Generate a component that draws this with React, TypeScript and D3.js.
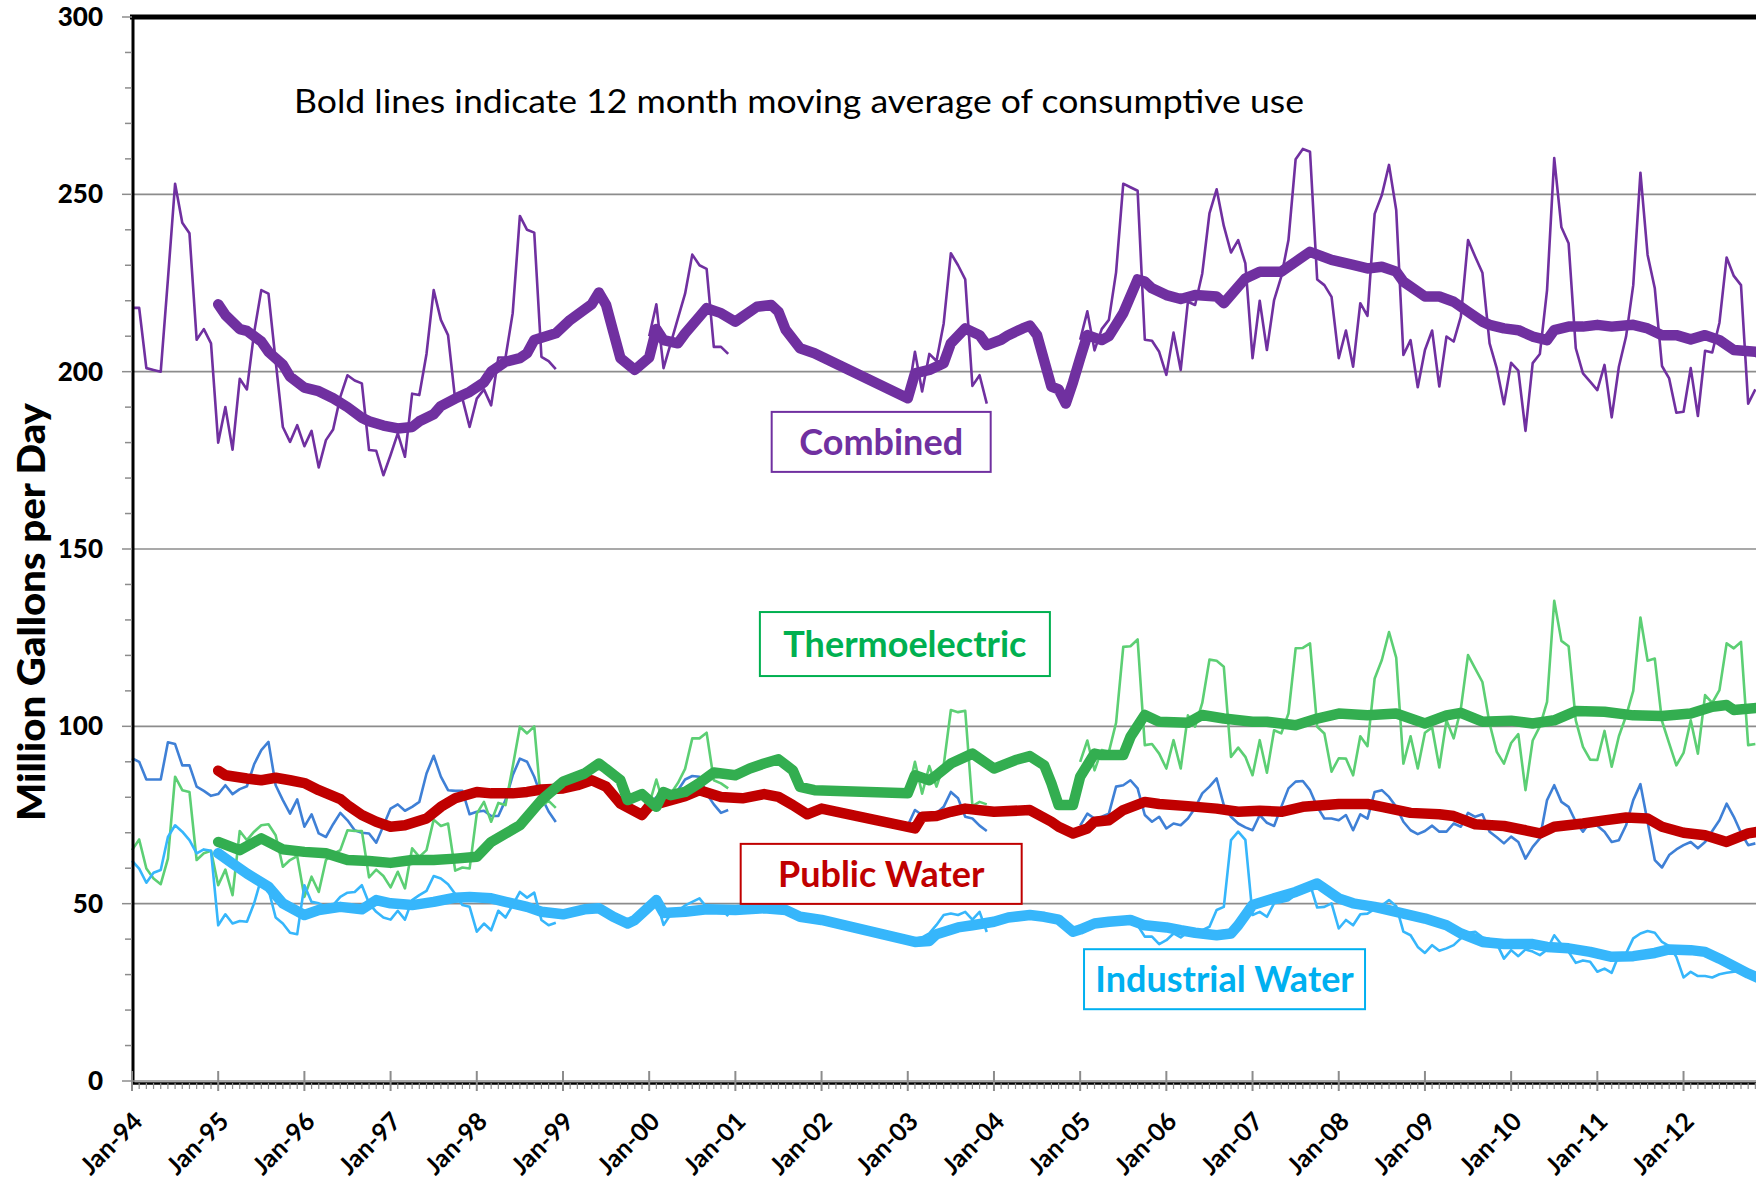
import React, { useRef, useEffect } from "react";
import * as d3 from "d3";

// month index 0 = Jan-94
const yearLabels = [
  "Jan-94", "Jan-95", "Jan-96", "Jan-97", "Jan-98", "Jan-99", "Jan-00",
  "Jan-01", "Jan-02", "Jan-03", "Jan-04", "Jan-05", "Jan-06", "Jan-07",
  "Jan-08", "Jan-09", "Jan-10", "Jan-11", "Jan-12",
];

// monthly data comes in blocks: 1994-98, 2000, 2003, 2005-12
const segmentStart = [0, 72, 108, 132];

const combinedMonthly = [
  [218, 218, 201, 200.5, 200, 226, 253, 242, 239, 209, 212, 208,
   180, 190, 178, 198, 195, 211, 223, 222, 203, 184.4, 180.2, 184.9,
   179, 183.3, 173, 180.7, 183.7, 192.9, 199, 197.5, 196.7, 177.9, 177.7, 170.8,
   176.5, 182.6, 176, 193.8, 193.4, 205, 223, 214.6, 210.3, 192, 192.4, 184.4,
   192.4, 195, 190.5, 204, 204, 216.5, 243.9, 240, 239.2, 204.2, 203, 200.7],
  [210, 219, 201, 208, 215, 222, 233, 230, 229, 207, 207, 205],
  [193, 205.6, 194.4, 205, 203, 213.6, 233.4, 230, 226, 196, 199, 191],
  [209, 217, 206, 212, 214.6, 228, 253, 252, 251, 209, 208.7, 205.6,
   199.1, 211, 200.5, 219.7, 218.8, 227.7, 244.6, 251.4, 241.1, 233.6, 237.1, 230.5,
   203.8, 220, 206.1, 220.2, 226.8, 237.1, 259.9, 262.8, 262, 226, 224.4, 221.1,
   203.8, 211.6, 201.4, 219.3, 215.7, 244.5, 249.8, 258.3, 245.6, 204.7, 208.9, 195.6,
   206.1, 211.6, 195.8, 209.9, 208.5, 215.5, 237.1, 232.4, 227.9, 208, 200.9, 190.8,
   202.5, 200.3, 183.3, 202.4, 205, 223, 260.2, 240.7, 236.2, 206.6, 199.5, 197.2,
   194.8, 201.9, 187.1, 201.4, 209.9, 224.4, 256.1, 232.9, 223.5, 201.6, 198.1, 188.4,
   188.7, 201, 187.5, 205.9, 205.4, 213.8, 232.2, 227, 224.4, 191, 195],
];

const thermoMonthly = [
  [65.1, 68.1, 59.9, 57.1, 55.5, 62.7, 85.8, 82, 81.5, 62.3, 64.2, 64.9,
   55.2, 59.6, 52.4, 70.5, 67.9, 70.3, 72.1, 72.4, 69.3, 60.4, 62.3, 63.4,
   51.9, 57.6, 53.3, 62.3, 64, 65.1, 70.7, 70.5, 70.5, 57.4, 59.6, 57.8,
   54.6, 59, 54.3, 65.6, 63.2, 65.1, 73.7, 71.9, 72.6, 59.3, 60.2, 59.9,
   75.4, 78.7, 73.1, 78.4, 77.8, 88.6, 99.9, 98, 100, 77.5, 79, 77],
  [78, 85, 78, 81, 84, 88, 96.6, 96.6, 98.2, 84.8, 83.9, 82.5],
  [81, 90, 81, 88.8, 83, 89, 104.6, 104, 104.4, 77.5, 78.7, 78],
  [90, 96, 87.6, 93.3, 92.8, 101, 122.4, 122.6, 124.5, 94.7, 95, 92.3,
   88.1, 96.1, 88.1, 103.1, 99.9, 106.6, 118.8, 118.5, 116.8, 91.4, 94, 91.4,
   86.2, 96.1, 86.9, 98.9, 98, 103.6, 122, 122.1, 123.4, 99.9, 98, 87.2,
   91, 90.9, 86.2, 97.2, 94.4, 113.5, 118.7, 126.6, 119.4, 89.5, 97.2, 88.1,
   98.2, 99.7, 88.4, 101.7, 96.6, 105, 120.1, 116.3, 112.5, 100.8, 92.8, 89.5,
   95.3, 97.8, 82, 96, 100, 106.9, 135.4, 124.1, 122.6, 101.7, 94.2, 90.6,
   90.5, 98.7, 88.6, 97.2, 102.9, 110, 130.7, 118.5, 119.1, 101.5, 95.2, 89,
   92.5, 101.7, 92.3, 108.8, 106.6, 110.2, 123.4, 122, 123.8, 94.7, 95],
];

const publicMonthly = [
  [91, 90, 85, 85, 85, 95.5, 95, 89, 89, 83, 81.8, 80.4,
   80.9, 83.4, 80.9, 82.3, 83.1, 89.3, 93.3, 95.6, 83.4, 79.2, 75.4, 79.4,
   71.7, 75.2, 69.8, 68.8, 72.4, 75.6, 73.5, 70.7, 70, 69.8, 67.2, 72,
   76.8, 78, 76.2, 77.3, 78.7, 86.7, 91.7, 85.8, 82, 81.8, 81.8, 75.2,
   75.9, 76.2, 74.7, 74.7, 79.2, 86.2, 90.9, 90, 85.8, 80.1, 76, 73],
  [78, 80, 78, 79, 82, 85, 86, 85.8, 81, 78, 75.6, 76.4],
  [72, 76.4, 75, 75.5, 75.5, 77.3, 81.5, 79.7, 74.5, 74, 72, 70.5],
  [72, 75.4, 74, 74.5, 75.4, 83, 83.4, 84.8, 82.5, 75, 73.1, 74.5,
   71.2, 72.6, 72.1, 74, 77, 81.1, 83, 85.3, 77.8, 74.5, 72.6, 71.5,
   70.7, 75, 72.8, 71.9, 77.3, 82.5, 84.4, 84.6, 82, 77.3, 74, 74,
   73.5, 75, 70.7, 75.2, 74, 81.5, 82, 80.1, 77.3, 73.1, 70.7, 69.6,
   70.5, 72, 70.3, 70.3, 72.6, 71.7, 75.6, 74.5, 75.2, 70.3, 68.7, 67,
   68.9, 67.4, 62.7, 66, 68.4, 79.2, 83.4, 78.7, 77.3, 73.1, 70.3, 73.1,
   72, 70.3, 67.4, 67.9, 72.1, 79.2, 83.7, 73, 62.3, 60.2, 63.7, 65.3,
   66.5, 67.4, 65.6, 67.4, 70.5, 73.5, 78.2, 74.5, 70, 66.5, 67],
];

const industrialMonthly = [
  [62.1, 59.9, 55.9, 58.7, 59.5, 68.8, 72.1, 70.3, 67.9, 64.2, 65.3, 64.9,
   43.9, 47, 44.4, 45.1, 44.9, 50.1, 57.1, 54, 46.1, 44.4, 41.8, 41.4,
   55.2, 50.5, 50.1, 49.1, 49.6, 51.9, 53.1, 53.3, 55.2, 50.1, 47.7, 46.1,
   45.5, 48, 45.5, 51, 52.4, 53.6, 57.8, 57.1, 55.5, 52.7, 49.6, 49.1,
   42.1, 44.4, 42.5, 48, 46.1, 49.6, 53.3, 51.7, 53.1, 45.4, 43.9, 44.6],
  [48, 51, 44, 47, 48, 49.5, 50.5, 51.5, 49, 47.7, 48.5, 46.5],
  [39.5, 40, 40.5, 41.6, 44, 46.8, 47.2, 46.8, 47.7, 45.5, 47.7, 42],
  [43, 44.5, 45, 45.5, 44.5, 45.5, 46, 45.5, 43.9, 40.7, 40.7, 38.6,
   39.7, 41.6, 40.5, 42, 41.5, 42.5, 43.5, 48.2, 49.1, 67.9, 70.3, 68,
   46.8, 47.7, 46.3, 50.1, 50.5, 51, 52.5, 54.5, 55.5, 48.9, 49.1, 50.1,
   43, 45.4, 43.9, 47, 47.2, 48.5, 49.5, 51, 49.3, 42.1, 41.1, 37.8,
   36.1, 38.3, 36.7, 37.4, 38.3, 40.2, 41.8, 42.1, 40.5, 40, 38.8, 34.5,
   36.9, 35.2, 37.1, 36.5, 35.5, 37, 41.1, 38.5, 36.4, 33.3, 34, 33.6,
   30.8, 31.7, 30.5, 35.5, 36, 40.2, 41.6, 42.3, 41.8, 39.2, 38, 35,
   29.2, 30.8, 29.6, 29.6, 29.2, 30.1, 30.5, 30.8, 31, 29.9, 30],
];

// 12 month moving averages, [month index, value]
const combinedAvg = [
  [12, 219], [13, 216], [15, 212], [16, 211.5], [18, 208.5], [19, 205.6], [21, 202],
  [22, 198.6], [24, 195.5], [26, 194.5], [28, 192.5], [30, 190], [32, 187], [33, 186],
  [35, 184.8], [37, 184], [39, 184.4], [40, 186], [42, 188], [43, 190.3], [45, 192.4],
  [47, 194.3], [49, 197], [50, 200], [52, 202.8], [54, 203.8], [55, 205.2], [56, 208.9],
  [59, 210.8], [61, 214.6], [64, 219], [65, 222.3], [66, 218.8], [67, 211.3], [68, 203.8],
  [70, 200.5], [72, 204], [73, 212], [74, 208.9], [76, 208], [77, 210.8], [79, 215.5],
  [80, 217.9], [82, 216.5], [84, 214.1], [85, 215.5], [87, 218.3], [89, 218.8], [90, 216.9],
  [91, 211.8], [93, 206.6], [95, 205.2], [108, 192.5], [109, 199.5], [111, 200.5],
  [113, 202.4], [114, 208], [116, 212.2], [118, 210.3], [119, 207.5], [121, 209],
  [122, 210.3], [124, 212.2], [125, 213], [126, 210.3], [128, 195.8], [129, 195], [130, 191],
  [131, 197], [132, 203.8], [133, 210.3], [135, 208.9], [136, 210], [138, 216.5], [140, 226],
  [141, 225.4], [142, 223.5], [144, 221.6], [146, 220.5], [148, 221.6], [151, 221.2],
  [152, 219.3], [155, 226.3], [157, 228.2], [160, 228.2], [162, 231], [164, 233.8],
  [167, 231.5], [170, 230.1], [172, 229.1], [174, 229.6], [176, 228.2], [177, 225.4],
  [179, 222.6], [180, 221.2], [182, 221.2], [184, 219.7], [186, 216.9], [188, 214.1],
  [189, 213.2], [191, 212.2], [193, 211.7], [195, 209.9], [197, 208.9], [198, 211.7],
  [200, 212.7], [202, 212.7], [204, 213.2], [206, 212.7], [209, 213.2], [211, 212.2],
  [213, 210.3], [215, 210.3], [217, 209.1], [219, 210.3], [221, 208.9], [223, 206.1],
  [226, 205.6], [227, 205],
];

const thermoAvg = [
  [12, 67.4], [15, 65.1], [18, 68.4], [21, 65.3], [24, 64.6], [27, 64.2], [30, 62.3],
  [33, 62], [36, 61.5], [39, 62.3], [42, 62.3], [45, 62.7], [48, 63.2], [50, 67.4],
  [54, 72.1], [57, 79.2], [60, 84.4], [63, 86.7], [65, 89.5], [66, 88], [68, 84.8],
  [69, 79.2], [71, 80.9], [73, 77.3], [74, 81.5], [75, 80.6], [77, 81.5], [79, 84],
  [81, 87], [84, 86.2], [86, 88.1], [88, 89.5], [90, 90.7], [92, 87.6], [93, 82.9],
  [95, 82], [108, 81.1], [109, 86.2], [111, 84.8], [112, 86.2], [114, 89.5], [117, 92.3],
  [120, 88.1], [123, 90.5], [125, 91.6], [127, 89], [128, 83.9], [129, 77.8], [131, 77.8],
  [132, 85.8], [134, 92.3], [135, 91.9], [138, 91.9], [139, 97], [141, 103.2], [143, 101.3],
  [147, 101], [149, 103.2], [152, 102.2], [156, 101.3], [158, 101.3], [162, 100.3],
  [165, 102.2], [168, 103.6], [172, 103.1], [176, 103.6], [180, 100.8], [183, 103.1],
  [185, 103.8], [188, 101.3], [192, 101.6], [195, 100.8], [198, 101.7], [201, 104.3],
  [205, 104.1], [209, 103.1], [213, 102.9], [217, 103.6], [220, 105.5], [222, 106],
  [223, 104.6], [227, 105.3],
];

const publicAvg = [
  [12, 87.5], [13, 86.2], [16, 85.3], [18, 84.8], [20, 85.5], [22, 84.8], [24, 84],
  [26, 82], [29, 79.5], [30, 77.8], [32, 75], [34, 73.1], [36, 71.7], [38, 72.1],
  [41, 74], [43, 77.3], [45, 79.7], [48, 81.5], [50, 81.1], [53, 81.1], [55, 81.5],
  [57, 82.2], [60, 82.5], [62, 83.4], [64, 84.8], [66, 83], [68, 78.2], [71, 75],
  [72, 77.5], [75, 79.2], [77, 80.3], [79, 82], [82, 80.1], [85, 79.7], [88, 80.9],
  [90, 80.1], [92, 77.8], [94, 75.2], [96, 76.8], [109, 71.2], [110, 74.5], [112, 74.7],
  [114, 75.9], [116, 76.8], [120, 75.9], [125, 76.4], [128, 73.1], [129, 71.7],
  [131, 69.8], [133, 71.2], [134, 73.1], [136, 73.5], [138, 76.4], [141, 78.7],
  [143, 78.1], [147, 77.5], [151, 76.8], [154, 75.9], [157, 76.2], [160, 75.9],
  [163, 77.3], [168, 78.1], [172, 78.1], [174, 77.3], [178, 75.6], [182, 75.2],
  [184, 74.7], [187, 72.4], [191, 71.9], [194, 70.7], [196, 69.8], [198, 71.7],
  [202, 72.6], [205, 73.5], [208, 74.3], [211, 74], [213, 71.7], [216, 70], [219, 69.3],
  [222, 67.4], [225, 69.8], [227, 70.5],
];

const industrialAvg = [
  [12, 64.2], [14, 61.3], [16, 58.5], [19, 54.8], [21, 50.1], [24, 46.8], [26, 48.2],
  [29, 49.1], [32, 48.4], [34, 51], [36, 50.1], [39, 49.6], [42, 50.5], [45, 51.7],
  [47, 51.9], [50, 51.5], [52, 50.5], [55, 49.1], [57, 47.7], [60, 47], [63, 48.4],
  [65, 48.7], [67, 46.3], [69, 44.4], [70, 45.4], [73, 51], [74, 47.4], [77, 47.7],
  [80, 48.4], [84, 48.2], [88, 48.7], [91, 48.2], [93, 46.3], [96, 45.4], [109, 39.2],
  [111, 39.5], [112, 41.4], [115, 43.3], [117, 43.9], [120, 44.9], [122, 46.1],
  [125, 46.8], [127, 46.3], [129, 45.5], [131, 42.1], [132, 42.7], [134, 44.4],
  [136, 44.9], [139, 45.4], [141, 43.9], [144, 43.3], [146, 42.5], [148, 41.8],
  [151, 41.1], [153, 41.6], [154, 43.9], [156, 49.6], [159, 51.5], [162, 53.3],
  [165, 55.7], [168, 51.5], [170, 50.1], [173, 49.1], [176, 47.7], [180, 45.8],
  [183, 43.9], [185, 41.6], [188, 39.2], [191, 38.6], [195, 38.6], [197, 37.8],
  [200, 37.4], [203, 36.4], [206, 35], [209, 35.2], [212, 36.1], [214, 37.1],
  [217, 36.9], [219, 36.4], [221, 34.5], [223, 32.4], [225, 30.3], [227, 28.5],
];

const yTicks = [0, 50, 100, 150, 200, 250, 300];
const annotation = "Bold lines indicate 12 month moving average of consumptive use";

export default function App() {
  const svgRef = useRef(null);

  useEffect(() => {
    const width = 1756;
    const left = 132;
    const monthPx = 7.183;
    const svg = d3.select(svgRef.current);
    svg.selectAll("*").remove();

    const x = d3.scaleLinear().domain([0, 240]).range([left, left + 240 * monthPx]);
    const y = d3.scaleLinear().domain([0, 300]).range([1081, 17]);
    const font = "Lato, 'Open Sans', sans-serif";

    // gridlines
    svg.append("g")
      .selectAll("line")
      .data(yTicks.filter((t) => t > 0 && t < 300))
      .enter()
      .append("line")
      .attr("x1", left)
      .attr("x2", width)
      .attr("y1", (d) => y(d))
      .attr("y2", (d) => y(d))
      .attr("stroke", "#8c8c8c")
      .attr("stroke-width", 1.6);

    const line = d3.line().x((d) => x(d[0])).y((d) => y(d[1]));

    const drawMonthly = (segments, color) => {
      segments.forEach((seg, i) => {
        const pts = seg.map((v, j) => [segmentStart[i] + j, v]);
        svg.append("path")
          .attr("d", line(pts))
          .attr("fill", "none")
          .attr("stroke", color)
          .attr("stroke-width", 2.6)
          .attr("stroke-linejoin", "round");
      });
    };
    drawMonthly(combinedMonthly, "#7030a0");
    drawMonthly(publicMonthly, "#3f80d6");
    drawMonthly(thermoMonthly, "#5ccf74");
    drawMonthly(industrialMonthly, "#36b6fb");

    const drawAvg = (pts, color) => {
      svg.append("path")
        .attr("d", line(pts))
        .attr("fill", "none")
        .attr("stroke", color)
        .attr("stroke-width", 10.5)
        .attr("stroke-linejoin", "round")
        .attr("stroke-linecap", "round");
    };
    drawAvg(combinedAvg, "#7030a0");
    drawAvg(publicAvg, "#c00000");
    drawAvg(thermoAvg, "#33ae50");
    drawAvg(industrialAvg, "#36b6fb");

    // axes frame
    svg.append("line").attr("x1", left - 2).attr("x2", width)
      .attr("y1", 17).attr("y2", 17).attr("stroke", "#000").attr("stroke-width", 5);
    svg.append("line").attr("x1", left + 1).attr("x2", left + 1)
      .attr("y1", 15).attr("y2", 1083).attr("stroke", "#000").attr("stroke-width", 3);
    svg.append("line").attr("x1", left).attr("x2", width)
      .attr("y1", 1081).attr("y2", 1081).attr("stroke", "#8c8c8c").attr("stroke-width", 1.5);
    svg.append("line").attr("x1", left).attr("x2", width)
      .attr("y1", 1083.5).attr("y2", 1083.5).attr("stroke", "#000").attr("stroke-width", 2.5);

    // y ticks
    const yMinor = d3.range(0, 301, 10);
    svg.append("g").selectAll("line").data(yMinor).enter().append("line")
      .attr("x1", (d) => (d % 50 === 0 ? 122 : 125))
      .attr("x2", left)
      .attr("y1", (d) => y(d))
      .attr("y2", (d) => y(d))
      .attr("stroke", "#8c8c8c")
      .attr("stroke-width", 1.5);

    svg.append("g").selectAll("text").data(yTicks).enter().append("text")
      .attr("x", 103)
      .attr("y", (d) => y(d))
      .attr("dy", "0.35em")
      .attr("text-anchor", "end")
      .attr("font-family", font)
      .attr("font-weight", "900")
      .attr("font-size", 26)
      .text((d) => d);

    // x ticks
    const xMinor = d3.range(0, 229);
    svg.append("g").selectAll("line").data(xMinor).enter().append("line")
      .attr("x1", (d) => x(d))
      .attr("x2", (d) => x(d))
      .attr("y1", (d) => (d % 12 === 0 ? 1071 : 1083))
      .attr("y2", (d) => (d % 12 === 0 ? 1091 : 1089))
      .attr("stroke", "#8c8c8c")
      .attr("stroke-width", (d) => (d % 12 === 0 ? 2 : 1.2));

    svg.append("g").selectAll("text").data(yearLabels).enter().append("text")
      .attr("transform", (d, i) => `translate(${x(i * 12) + 12},1123) rotate(-45)`)
      .attr("text-anchor", "end")
      .attr("font-family", font)
      .attr("font-weight", "bold")
      .attr("font-size", 25)
      .text((d) => d);

    // axis title
    svg.append("text")
      .attr("transform", "translate(45,612) rotate(-90)")
      .attr("text-anchor", "middle")
      .attr("font-family", font)
      .attr("font-weight", "900")
      .attr("font-size", 38)
      .attr("textLength", 418)
      .attr("lengthAdjust", "spacingAndGlyphs")
      .text("Million Gallons per Day");

    // note
    svg.append("text")
      .attr("x", 294)
      .attr("y", 113)
      .attr("font-family", font)
      .attr("font-size", 33)
      .attr("textLength", 1010)
      .attr("lengthAdjust", "spacingAndGlyphs")
      .text(annotation);

    // series labels
    const labelBoxes = [
      { text: "Combined", color: "#7030a0", m: 104.3, v: 180.2, w: 219, h: 60 },
      { text: "Thermoelectric", color: "#00b050", m: 107.6, v: 123.2, w: 290, h: 64 },
      { text: "Public Water", color: "#c00000", m: 104.3, v: 58.4, w: 281, h: 60 },
      { text: "Industrial Water", color: "#00b0f0", m: 152.1, v: 28.7, w: 281, h: 60 },
    ];
    const boxes = svg.append("g").selectAll("g").data(labelBoxes).enter().append("g")
      .attr("transform", (d) => `translate(${x(d.m)},${y(d.v)})`);
    boxes.append("rect")
      .attr("x", (d) => -d.w / 2)
      .attr("y", (d) => -d.h / 2)
      .attr("width", (d) => d.w)
      .attr("height", (d) => d.h)
      .attr("fill", "#fff")
      .attr("stroke", (d) => d.color)
      .attr("stroke-width", 2);
    boxes.append("text")
      .attr("text-anchor", "middle")
      .attr("dy", "0.36em")
      .attr("font-family", font)
      .attr("font-weight", "bold")
      .attr("font-size", 36)
      .attr("fill", (d) => d.color)
      .text((d) => d.text);
  }, []);

  return (
    <svg
      ref={svgRef}
      width={1756}
      height={1187}
      style={{ position: "absolute", left: 0, top: 0, background: "#fff" }}
    ></svg>
  );
}
